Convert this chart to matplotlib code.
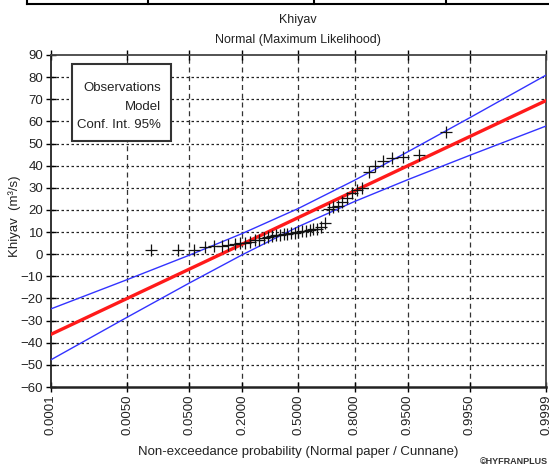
import numpy as np
import matplotlib.pyplot as plt
from statistics import NormalDist

plt.rcParams['font.family'] = ['Liberation Sans', 'DejaVu Sans']

# normal probability paper: x axis is the standard normal quantile
nd = NormalDist()
def zq(p):
    return np.array([nd.inv_cdf(v) for v in p])

prob_ticks = [0.0001, 0.005, 0.05, 0.2, 0.5, 0.8, 0.95, 0.995, 0.9999]
prob_labels = ["0.0001", "0.0050", "0.0500", "0.2000", "0.5000",
               "0.8000", "0.9500", "0.9950", "0.9999"]

# model and 95% confidence band read at the tick probabilities
model = [-36.2, -20.0, -6.8, 4.6, 16.6, 28.6, 40.0, 53.2, 69.4]
conf_upper = [-24.7, -11.5, -0.5, 9.4, 20.7, 33.4, 46.3, 61.7, 80.9]
conf_lower = [-47.7, -28.5, -13.1, -0.2, 12.5, 23.8, 33.7, 44.7, 57.9]

# observed flows (m3/s), sorted
obs = [1.8, 2.0, 2.1, 3.2, 3.5, 3.8, 4.2, 4.6, 4.9, 5.2,
       5.6, 6.2, 6.5, 7.2, 7.6, 8.0, 8.5, 8.8, 9.1, 9.3,
       9.5, 9.7, 10.0, 10.4, 10.7, 10.9, 11.2, 11.6, 12.2, 14.2,
       20.2, 21.5, 21.6, 23.7, 25.2, 27.5, 29.0, 29.8, 37.3, 39.8,
       42.2, 43.3, 43.8, 44.8, 55.0]

n = len(obs)
rank = np.arange(1, n + 1)
cunnane = (rank - 0.4) / (n + 0.2)

fig = plt.figure(figsize=(5.49, 4.68), dpi=100)
ax = fig.add_axes([51/549, 1-387/468, 495/549, 332/468])

zt = zq(prob_ticks)
ax.plot(zt, conf_upper, color='#3333ff', lw=1.0, zorder=3)
ax.plot(zt, conf_lower, color='#3333ff', lw=1.0, zorder=3)
ax.plot(zt, model, color='#ff1a1a', lw=2.4, zorder=4)
ax.plot(zq(cunnane), obs, ls='none', marker='+', ms=8, mew=0.9, color='#111111', zorder=5)

ax.set_xlim(zt[0], zt[-1])
ax.set_ylim(-60, 90)
ax.set_xticks(zt)
ax.set_xticklabels(prob_labels, rotation=90, fontsize=9.5, color='#222222')
ax.set_yticks(np.arange(-60, 91, 10))
ax.tick_params(axis='y', labelsize=9.5, labelcolor='#222222', direction='inout', length=7, width=1, pad=2)
ax.tick_params(axis='x', direction='inout', length=7, width=1, top=True, pad=2)

# grid: dotted horizontals, dashed verticals, none on the frame lines
for v in range(-50, 90, 10):
    ax.axhline(v, color='#222222', lw=0.9, ls=(0, (2, 2)), zorder=1)
for x in zt[1:-1]:
    ax.axvline(x, color='#333333', lw=0.9, ls=(0, (4, 3)), zorder=1)

for s in ax.spines.values():
    s.set_linewidth(1.3)
    s.set_color('#444444')
ax.spines['bottom'].set_color('#222222')
ax.spines['bottom'].set_linewidth(1.8)
ax.spines['left'].set_color('#222222')

ax.text(0.222, 0.918, "Observations\nModel\nConf. Int. 95%", transform=ax.transAxes,
        ha='right', va='top', multialignment='right', fontsize=9.5, color='#222222',
        linespacing=1.7, zorder=6)
ax.add_patch(plt.Rectangle((0.042, 0.742), 0.2, 0.231, transform=ax.transAxes,
                           facecolor='white', edgecolor='#333333', lw=1.5, zorder=5.5))

fig.text(298/549, 1-20/468, "Khiyav", ha='center', va='center', fontsize=9, color='#222222')
fig.text(298/549, 1-40/468, "Normal (Maximum Likelihood)", ha='center', va='center',
         fontsize=9, color='#222222')
fig.text(15/549, 1-216/468, "Khiyav  (m³/s)", rotation=90, ha='center', va='center',
         fontsize=9.5, color='#222222')
fig.text(298/549, 1-452/468, "Non-exceedance probability (Normal paper / Cunnane)",
         ha='center', va='center', fontsize=9.5, color='#222222')
fig.text(0.999, 1-462/468, "©HYFRANPLUS", ha='right', va='center', fontsize=6.5,
         weight='bold', color='#333333')

# piece of the table frame above the chart
fig.add_artist(plt.Line2D([27/549, 1], [1-4/468, 1-4/468], color='black', lw=1.5))
for xv in [27, 148, 314, 446]:
    fig.add_artist(plt.Line2D([xv/549, xv/549], [1, 1-4/468], color='black', lw=1.5))

fig.savefig('out.png', dpi=100)
